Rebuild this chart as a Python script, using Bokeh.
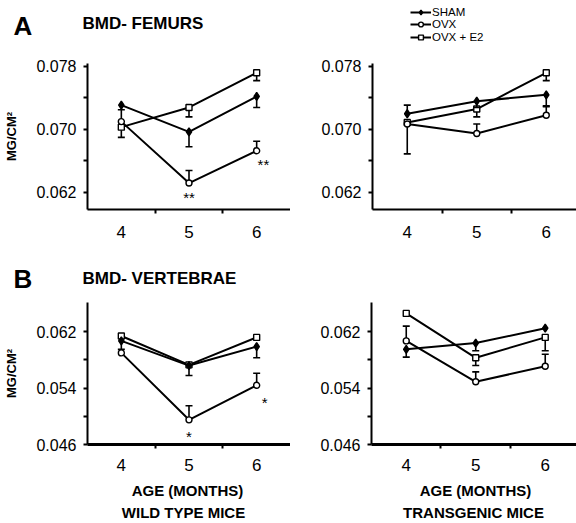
from bokeh.plotting import figure
from bokeh.layouts import column, row
from bokeh.models import FixedTicker, Legend, LegendItem, PrintfTickFormatter
from bokeh.core.properties import value
from bokeh.embed import file_html
from bokeh.resources import INLINE

FONT = "Liberation Sans"

# ---------------- data ----------------
ages = [4, 5, 6]
series_names = ["SHAM", "OVX", "OVX + E2"]

# Femurs, wild type mice
fem_wt_sham = [0.0731, 0.0697, 0.0742]
fem_wt_ovx = [0.0710, 0.0632, 0.0673]
fem_wt_e2 = [0.0703, 0.0728, 0.0772]
# signed error bars (+ drawn up, - drawn down, 0 not shown)
fem_wt_sham_err = [0.0, -0.0019, -0.0014]
fem_wt_ovx_err = [0.0015, 0.0016, 0.0012]
fem_wt_e2_err = [-0.0013, -0.0012, -0.0010]

# Femurs, transgenic mice
fem_tg_sham = [0.0720, 0.0736, 0.0744]
fem_tg_ovx = [0.0707, 0.0695, 0.0718]
fem_tg_e2 = [0.0709, 0.0726, 0.0772]
fem_tg_sham_err = [0.0011, -0.0008, -0.0014]
fem_tg_ovx_err = [-0.0038, 0.0012, 0.0011]
fem_tg_e2_err = [0.0, -0.0010, -0.0010]

# Vertebrae, wild type mice
ver_wt_sham = [0.0607, 0.0572, 0.0599]
ver_wt_ovx = [0.0590, 0.0495, 0.0544]
ver_wt_e2 = [0.0614, 0.0573, 0.0612]
ver_wt_sham_err = [-0.0012, -0.0014, -0.0016]
ver_wt_ovx_err = [0.0, 0.0020, 0.0017]
ver_wt_e2_err = [0.0, 0.0, 0.0]

# Vertebrae, transgenic mice
ver_tg_sham = [0.0595, 0.0604, 0.0625]
ver_tg_ovx = [0.0607, 0.0549, 0.0571]
ver_tg_e2 = [0.0646, 0.0583, 0.0612]
ver_tg_sham_err = [-0.0011, -0.0011, 0.0]
ver_tg_ovx_err = [0.0021, 0.0014, 0.0017]
ver_tg_e2_err = [0.0, -0.0011, -0.0019]

# significance marks
fem_wt_star_x = [5.0, 6.1]
fem_wt_star_y = [0.0614, 0.0655]
fem_wt_star_text = ["**", "**"]
ver_wt_star_x = [5.0, 6.12]
ver_wt_star_y = [0.0472, 0.0520]
ver_wt_star_text = ["*", "*"]

fem_ticks = [0.062, 0.070, 0.078]
fem_minor = [0.066, 0.074]
ver_ticks = [0.046, 0.054, 0.062]
ver_minor = [0.050, 0.058]

# panel headings / footers
panel_letters = ["A", "B"]
panel_titles = ["BMD- FEMURS", "BMD- VERTEBRAE"]
x_title = "AGE (MONTHS)"
group_titles = ["WILD TYPE MICE", "TRANSGENIC MICE"]
y_title = "MG/CM²"

W = 576


def blank(height):
    p = figure(width=W, height=height, x_range=(0, W), y_range=(0, height),
               x_axis_type=None, y_axis_type=None, output_backend="svg",
               toolbar_location=None, min_border=0)
    p.xgrid.visible = False
    p.ygrid.visible = False
    p.outline_line_color = None
    return p


def make_panel(width, height, bl, bt, bb, x_end, y_start, y_end, ticks, minor, xw, xstand):
    p = figure(width=width, height=height, x_range=(3.5, x_end), y_range=(y_start, y_end),
               output_backend="svg", toolbar_location=None,
               min_border_left=bl, min_border_right=0, min_border_top=bt, min_border_bottom=bb)
    p.xgrid.visible = False
    p.ygrid.visible = False
    p.outline_line_color = None
    p.xaxis.ticker = FixedTicker(ticks=ages, minor_ticks=[4.5, 5.5])
    p.yaxis.ticker = FixedTicker(ticks=ticks, minor_ticks=minor)
    p.yaxis.formatter = PrintfTickFormatter(format="%.3f")
    for ax in (p.xaxis[0], p.yaxis[0]):
        ax.axis_line_color = "black"
        ax.major_tick_line_color = "black"
        ax.minor_tick_line_color = "black"
        ax.major_tick_line_width = 2
        ax.minor_tick_line_width = 2
        ax.major_tick_in = 0
        ax.minor_tick_in = 0
        ax.major_label_text_color = "black"
        ax.major_label_text_font = FONT
    p.yaxis.axis_line_width = 2
    p.xaxis.axis_line_width = xw
    p.yaxis.major_tick_out = 4
    p.yaxis.minor_tick_out = 4
    p.xaxis.major_tick_out = 0
    p.xaxis.minor_tick_out = 4
    p.yaxis.major_label_standoff = 7
    p.xaxis.major_label_standoff = xstand
    p.yaxis.major_label_text_font_size = "16px"
    p.xaxis.major_label_text_font_size = "17px"
    return p


def ylabel(p):
    p.yaxis.axis_label = y_title
    p.yaxis.axis_label_text_font = FONT
    p.yaxis.axis_label_text_font_style = "bold"
    p.yaxis.axis_label_text_font_size = "13px"
    p.yaxis.axis_label_text_color = "black"
    p.yaxis.axis_label_standoff = 14


def draw_series(p, vals, errs, marker, fill, size):
    xs = [a for a, e in zip(ages, errs) if e]
    y0 = [v for v, e in zip(vals, errs) if e]
    y1 = [v + e for v, e in zip(vals, errs) if e]
    p.segment(x0=xs, y0=y0, x1=xs, y1=y1, line_color="black", line_width=1.6)
    p.scatter(xs, y1, marker="dash", size=7, line_color="black", line_width=1.6)
    p.line(ages, vals, line_color="black", line_width=2)
    p.scatter(ages, vals, marker=marker, size=size, fill_color=fill,
              line_color="black", line_width=1.4)


def draw_all(p, sham, ovx, e2, se, oe, ee):
    draw_series(p, e2, ee, "square", "white", 6)
    draw_series(p, sham, se, "diamond", "black", 8)
    draw_series(p, ovx, oe, "circle", "white", 6)


def stars(p, xs, ys, ts):
    p.text(x=xs, y=ys, text=ts, text_font=value(FONT), text_font_size="15px",
           text_align="center", text_baseline="middle", text_color="black")


def head_text(p, xs, ys, ts, size, align="left"):
    p.text(x=xs, y=ys, text=ts, text_font=value(FONT), text_font_size=size,
           text_font_style="bold", text_align=align, text_baseline="middle",
           text_color="black")


# ---- header A (letter, title, legend) ----
hA = blank(55)
head_text(hA, [13], [29.5], [panel_letters[0]], "26px")
head_text(hA, [82], [32.5], [panel_titles[0]], "17px")
leg_styles = [("diamond", "black"), ("circle", "white"), ("square", "white")]
# legend key renderers: drawn off-canvas, only their legend glyphs show
key_x = [-30, -20]
key_y = [-30, -30]
for i, (name, (mk, fill)) in enumerate(zip(series_names, leg_styles)):
    ln_r = hA.line(key_x, key_y, line_color="black", line_width=2)
    mk_r = hA.scatter(key_x, key_y, marker=mk, fill_color=fill, line_color="black", line_width=1.4)
    lg = Legend(items=[LegendItem(label=name, renderers=[ln_r, mk_r])],
                location=(410, 37.5 - i * 12.5), glyph_width=21, glyph_height=12,
                label_height=12, label_standoff=1, padding=0, margin=0, spacing=0,
                border_line_color=None, background_fill_alpha=0,
                label_text_font=FONT, label_text_font_size="11.5px", label_text_color="black")
    hA.add_layout(lg)

# ---- panel A (femurs) ----
fA1 = make_panel(290, 208, 87, 8, 54, 6.5, 0.05984, 0.07838, fem_ticks, fem_minor, 2, 12)
draw_all(fA1, fem_wt_sham, fem_wt_ovx, fem_wt_e2, fem_wt_sham_err, fem_wt_ovx_err, fem_wt_e2_err)
stars(fA1, fem_wt_star_x, fem_wt_star_y, fem_wt_star_text)
ylabel(fA1)

fA2 = make_panel(286, 208, 82, 8, 54, 6.435, 0.05984, 0.07838, fem_ticks, fem_minor, 2, 12)
draw_all(fA2, fem_tg_sham, fem_tg_ovx, fem_tg_e2, fem_tg_sham_err, fem_tg_ovx_err, fem_tg_e2_err)

# ---- header B ----
hB = blank(31)
head_text(hB, [13], [16], [panel_letters[1]], "26px")
head_text(hB, [82], [16.5], [panel_titles[1]], "17px")

# ---- panel B (vertebrae) ----
fB1 = make_panel(290, 180, 87, 8, 30, 6.5, 0.046, 0.06615, ver_ticks, ver_minor, 3, 10)
draw_all(fB1, ver_wt_sham, ver_wt_ovx, ver_wt_e2, ver_wt_sham_err, ver_wt_ovx_err, ver_wt_e2_err)
stars(fB1, ver_wt_star_x, ver_wt_star_y, ver_wt_star_text)
ylabel(fB1)

fB2 = make_panel(286, 180, 81, 8, 30, 6.45, 0.046, 0.06615, ver_ticks, ver_minor, 3, 10)
draw_all(fB2, ver_tg_sham, ver_tg_ovx, ver_tg_e2, ver_tg_sham_err, ver_tg_ovx_err, ver_tg_e2_err)

# ---- footer ----
ft = blank(49)
head_text(ft, [187, 475], [33, 33], [x_title, x_title], "15px", align="center")
head_text(ft, [183, 473], [11, 11], group_titles, "15px", align="center")

layout = column(hA, row(fA1, fA2, spacing=0), hB, row(fB1, fB2, spacing=0), ft, spacing=0)

open("out.html", "w").write(file_html(layout, INLINE))
